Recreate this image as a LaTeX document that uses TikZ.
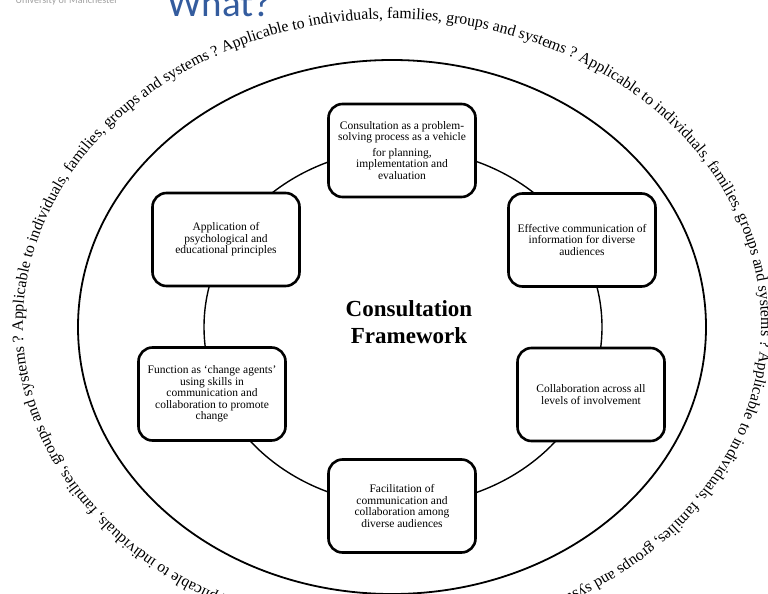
\documentclass[tikz,border=0pt]{standalone}
\usepackage{fontspec}
\setmainfont{Liberation Serif}
\newfontfamily\headfont{Carlito}
\usetikzlibrary{decorations.text}
\definecolor{headblue}{RGB}{52,92,158}
\begin{document}
\begin{tikzpicture}[x=1pt,y=-1pt,
  stage/.style={draw, line width=2.6pt, rounded corners=14pt, fill=white,
    minimum width=147pt, minimum height=93pt, align=center, inner sep=2pt,
    font=\fontsize{11.5}{11.5}\selectfont},
  ring/.style={line width=1.8pt},
  loop/.style={line width=1.4pt}]
\useasboundingbox (0,0) rectangle (768,594);
\clip (0,0) rectangle (768,594);

% slide header remnants
\node[anchor=base east, inner sep=0, text=gray!75, font=\headfont\fontsize{10}{10}\selectfont] (uni) at (118,4) {University of Manchester};
\node[anchor=base west, inner sep=0, text=headblue, font=\headfont\fontsize{39}{39}\selectfont] (what) at (167,17) {What?};

% outer boundary and inner cycle
\coordinate (oc) at (392,327);
\coordinate (ic) at (403,327);
\draw[ring] (oc) ellipse [x radius=314pt, y radius=267pt];
\draw[loop] (ic) ellipse [x radius=199pt, y radius=178pt];

% repeated caption running clockwise around the outer boundary
\coordinate (tc) at (392,325);
\path (tc) ++(245:369pt and 306pt) coordinate (ringstart);
\path[decorate, decoration={text along path, text align=left,
  text={|\fontsize{15.8}{15.8}\selectfont|Applicable to individuals, families, groups and systems ? Applicable to individuals, families, groups and systems ? Applicable to individuals, families, groups and systems ? Applicable to individuals, families, groups and systems ? Applicable to individuals, families, groups and systems ? Applicable to individuals, families, groups and systems ? }}]
  (ringstart) arc[start angle=245, end angle=-115, x radius=369pt, y radius=306pt];

% the six stages
\node[stage] (plan) at (402,150.5) {Consultation as a problem-\\solving process as a vehicle\\[4pt]for planning,\\implementation and\\evaluation};
\node[stage] (comm) at (582,240) {Effective communication of\\information for diverse\\audiences};
\node[stage] (collab) at (591,394.5) {Collaboration across all\\levels of involvement};
\node[stage] (facil) at (402,506) {Facilitation of\\communication and\\collaboration among\\diverse audiences};
\node[stage] (agent) at (212,394) {Function as ‘change agents’\\using skills in\\communication and\\collaboration to promote\\change};
\node[stage] (apply) at (226,239.5) {Application of\\psychological and\\educational principles};

% centre title
\node[align=center, font=\bfseries\fontsize{23}{27}\selectfont] (title) at (409,322) {Consultation\\Framework};
\end{tikzpicture}
\end{document}
